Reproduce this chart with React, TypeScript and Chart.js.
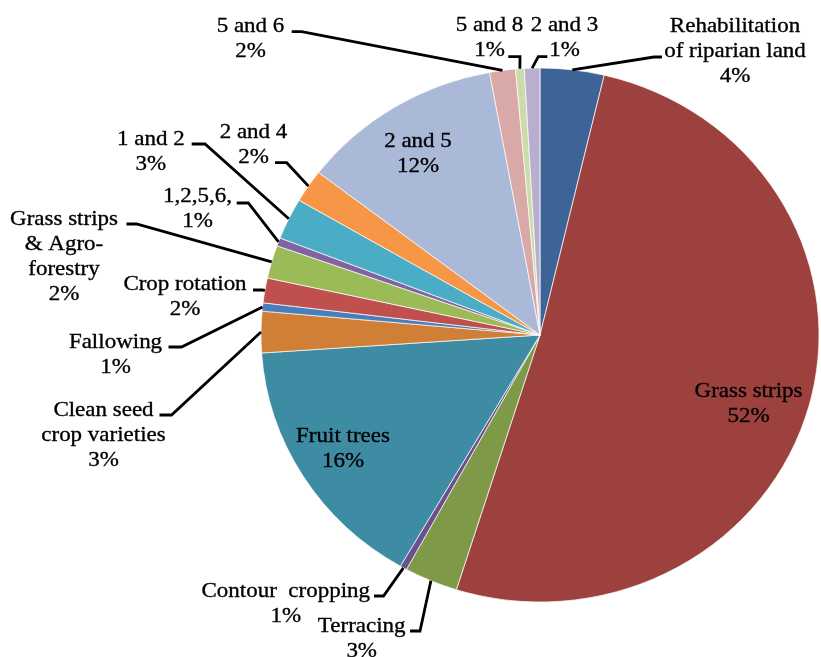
import React, { useEffect, useRef } from 'react';
import { Chart, registerables } from 'chart.js';

Chart.register(...registerables);

// ---- data ----
const categories = [
  'Rehabilitation of riparian land',
  'Grass strips',
  'Terracing',
  'Contour  cropping',
  'Fruit trees',
  'Clean seed crop varieties',
  'Fallowing',
  'Crop rotation',
  'Grass strips & Agro-forestry',
  '1,2,5,6,',
  '1 and 2',
  '2 and 4',
  '2 and 5',
  '5 and 6',
  '5 and 8',
  '2 and 3',
];
const values = [3.7, 51.2, 3.1, 0.4, 15.6, 2.5, 0.5, 1.5, 2.0, 0.5, 2.5, 2.0, 11.7, 1.5, 0.5, 0.9];
const percentLabels = ['4%', '52%', '3%', '1%', '16%', '3%', '1%', '2%', '2%', '1%', '3%', '2%', '12%', '2%', '1%', '1%'];
const labelLines = [
  ['Rehabilitation', 'of riparian land'],
  ['Grass strips'],
  ['Terracing'],
  ['Contour  cropping'],
  ['Fruit trees'],
  ['Clean seed', 'crop varieties'],
  ['Fallowing'],
  ['Crop rotation'],
  ['Grass strips', '& Agro-', 'forestry'],
  ['1,2,5,6,'],
  ['1 and 2'],
  ['2 and 4'],
  ['2 and 5'],
  ['5 and 6'],
  ['5 and 8'],
  ['2 and 3'],
];

// ---- styles / layout ----
const colors = [
  '#3E6497', '#9D413F', '#7E9A48', '#6A518C', '#3D8CA4', '#D17F37', '#4A7EBB', '#C0504D',
  '#9BBB59', '#8064A2', '#4BACC6', '#F79646', '#AAB9D7', '#D9A9A8', '#CBDCAA', '#BAAECF',
];
const STRETCH_X = 1.045;
const FONT = '22px "Liberation Serif", "Times New Roman", serif';
const LINE_H = 25;
// label anchor: centre x, first baseline y, leader stub [xNearLabel, xElbow, y] or null
const labelLayout: { x: number; y: number; stub: number[] | null }[] = [
  { x: 735, y: 32, stub: [662, 654, 57] },
  { x: 748.5, y: 397, stub: null },
  { x: 361.7, y: 632, stub: [410, 420, 631] },
  { x: 285.8, y: 597, stub: [374, 383.5, 596] },
  { x: 343, y: 442, stub: null },
  { x: 103.5, y: 415.5, stub: [159.5, 171.5, 415] },
  { x: 115.5, y: 348, stub: [168.5, 181.5, 347] },
  { x: 185, y: 289.5, stub: [253, 262, 290] },
  { x: 64, y: 225, stub: [126.5, 136.5, 224] },
  { x: 197.5, y: 201.7, stub: [236.7, 248.3, 203] },
  { x: 150.8, y: 145, stub: [191.7, 205, 144] },
  { x: 253.5, y: 137.5, stub: [275, 286.7, 162.7] },
  { x: 418, y: 146.7, stub: null },
  { x: 250.5, y: 32, stub: [291.7, 301.7, 31.7] },
  { x: 489.5, y: 31, stub: [508.3, 520, 56.7] },
  { x: 564.5, y: 30.7, stub: [547.3, 538.3, 56.7] },
];

const stretchPlugin = {
  id: 'stretchPie',
  beforeDatasetsDraw(chart: any) {
    const ctx = chart.ctx;
    const arc = chart.getDatasetMeta(0).data[0];
    if (!arc) return;
    ctx.save();
    ctx.translate(arc.x, 0);
    ctx.scale(STRETCH_X, 1);
    ctx.translate(-arc.x, 0);
  },
  afterDatasetsDraw(chart: any) {
    chart.ctx.restore();
  },
};

const labelPlugin = {
  id: 'pieLabels',
  afterDraw(chart: any) {
    const ctx = chart.ctx;
    const arcs = chart.getDatasetMeta(0).data;
    ctx.save();
    // leader lines
    ctx.strokeStyle = '#000';
    ctx.lineWidth = 2.8;
    ctx.lineJoin = 'miter';
    arcs.forEach((arc: any, i: number) => {
      const lay = labelLayout[i];
      if (!lay || !lay.stub) return;
      const p = arc.getProps(['x', 'y', 'startAngle', 'endAngle', 'outerRadius'], true);
      const mid = (p.startAngle + p.endAngle) / 2;
      const ex = p.x + STRETCH_X * p.outerRadius * Math.cos(mid);
      const ey = p.y + p.outerRadius * Math.sin(mid);
      const [x1, x2, y] = lay.stub;
      ctx.beginPath();
      ctx.moveTo(x1, y);
      ctx.lineTo(x2, y);
      ctx.lineTo(ex, ey);
      ctx.stroke();
    });
    // texts
    ctx.fillStyle = '#000';
    ctx.strokeStyle = '#000';
    ctx.lineWidth = 0.35;
    ctx.font = FONT;
    ctx.textAlign = 'center';
    ctx.textBaseline = 'alphabetic';
    arcs.forEach((_arc: any, i: number) => {
      const lay = labelLayout[i];
      const lines = [...labelLines[i], percentLabels[i]];
      lines.forEach((t, k) => {
        ctx.save();
        ctx.translate(lay.x, lay.y + k * LINE_H);
        ctx.scale(STRETCH_X, 1);
        ctx.fillText(t, 0, 0);
        ctx.strokeText(t, 0, 0);
        ctx.restore();
      });
    });
    ctx.restore();
  },
};

export default function App() {
  const ref = useRef<HTMLCanvasElement>(null);
  useEffect(() => {
    document.body.style.margin = '0';
    const chart = new Chart(ref.current as HTMLCanvasElement, {
      type: 'pie',
      data: {
        labels: categories,
        datasets: [
          {
            data: values,
            backgroundColor: colors,
            borderColor: 'rgba(255,255,255,0.85)',
            borderWidth: 0.8,
            radius: 267,
          } as any,
        ],
      },
      options: {
        responsive: false,
        animation: false,
        events: [],
        layout: { padding: { left: 259, right: 0, top: 13, bottom: 0 } },
        plugins: { legend: { display: false }, tooltip: { enabled: false } },
      },
      plugins: [stretchPlugin, labelPlugin],
    });
    return () => chart.destroy();
  }, []);
  return (
    <div style={{ position: 'fixed', left: 0, top: 0, width: 821, height: 657, background: '#fff' }}>
      <canvas ref={ref} width={821} height={657} />
    </div>
  );
}
